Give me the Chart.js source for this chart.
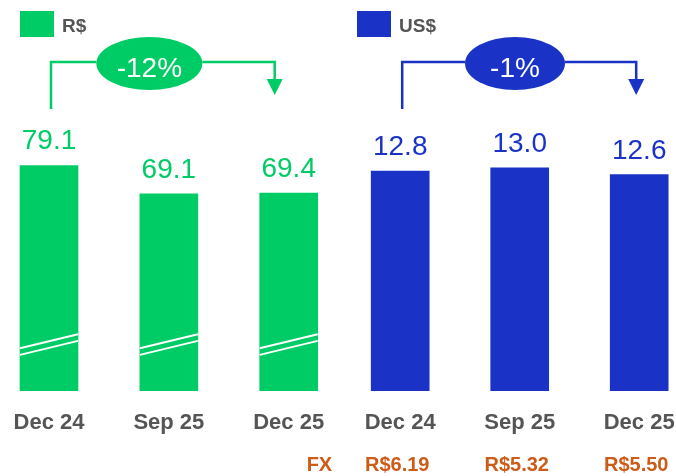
<!DOCTYPE html>
<html>
<head>
<meta charset="utf-8">
<script src="https://cdn.jsdelivr.net/npm/chart.js@4/dist/chart.umd.min.js"></script>
<style>
  body { margin: 0; background: #fff; }
  #wrap { position: relative; width: 676px; height: 476px; }
  #wrap canvas { position: absolute; left: 0; top: 0; }
</style>
</head>
<body>
<div id="wrap">
  <canvas id="brlChart" width="676" height="476"></canvas>
  <canvas id="usdChart" width="676" height="476"></canvas>
</div>
<script>
// Data
const periods = ["Dec 24", "Sep 25", "Dec 25"];
const brlValues = [79.1, 69.1, 69.4];
const usdValues = [12.8, 13.0, 12.6];
const brlChange = "-12%";
const usdChange = "-1%";
const fxLabel = "FX";
const fxRates = ["R$6.19", "R$5.32", "R$5.50"];

const GREEN = "#00cc66";
const BLUE = "#1a33c6";
const GRAY = "#555555";
const ORANGE = "#cc5c18";
const FONT = "'Liberation Sans', Arial, sans-serif";

// Draws legend swatch, value labels, break marks, change bracket and FX row
const decorations = {
  id: "decorations",
  afterDatasetsDraw(chart, args, opts) {
    const ctx = chart.ctx;
    const ds = chart.data.datasets[0];
    const bars = chart.getDatasetMeta(0).data;
    const base = chart.chartArea.bottom;
    const color = ds.backgroundColor;
    ctx.save();

    // legend
    ctx.fillStyle = color;
    ctx.fillRect(opts.legendX, 11, 34, 26);
    ctx.fillStyle = GRAY;
    ctx.font = "bold 19px " + FONT;
    ctx.textAlign = "left";
    ctx.textBaseline = "alphabetic";
    ctx.fillText(ds.label, opts.legendX + 42, 31.5);

    // value labels
    ctx.font = "28px " + FONT;
    ctx.textAlign = "center";
    ctx.fillStyle = color;
    bars.forEach((bar, i) => {
      ctx.fillText(ds.data[i].toFixed(1), bar.x, bar.y - 16);
    });

    // axis break marks
    if (opts.breakMarks) {
      ctx.strokeStyle = "#fff";
      ctx.lineWidth = 2;
      bars.forEach(bar => {
        const half = bar.width / 2;
        const cy = base - 46;
        [-3.3, 3.3].forEach(off => {
          ctx.beginPath();
          ctx.moveTo(bar.x - half, cy + off + 7);
          ctx.lineTo(bar.x + half, cy + off - 7);
          ctx.stroke();
        });
      });
    }

    // change bracket
    const b = opts.bracket;
    const x0 = bars[0].x + b.leftDx;
    const x1 = bars[bars.length - 1].x + b.rightDx;
    const ex = bars[1].x + b.ellipseDx;
    const lineY = 62;
    const ey = 63.5;
    ctx.strokeStyle = color;
    ctx.lineWidth = 2.5;
    ctx.beginPath();
    ctx.moveTo(x0, 109);
    ctx.lineTo(x0, lineY);
    ctx.lineTo(ex - b.rx, lineY);
    ctx.moveTo(ex + b.rx, lineY);
    ctx.lineTo(x1, lineY);
    ctx.lineTo(x1, 80);
    ctx.stroke();
    ctx.fillStyle = color;
    ctx.beginPath();
    ctx.moveTo(x1 - 8, 79);
    ctx.lineTo(x1 + 8, 79);
    ctx.lineTo(x1, 95);
    ctx.closePath();
    ctx.fill();
    ctx.beginPath();
    ctx.ellipse(ex, ey, b.rx, 26.5, 0, 0, Math.PI * 2);
    ctx.fill();
    ctx.fillStyle = "#fff";
    ctx.font = "28px " + FONT;
    ctx.textAlign = "center";
    ctx.fillText(b.text, ex, ey + 13);

    // FX row
    if (opts.fx) {
      ctx.fillStyle = ORANGE;
      ctx.font = "bold 20px " + FONT;
      ctx.textAlign = "right";
      ctx.fillText(fxLabel, bars[0].x - 68, 471);
      ctx.textAlign = "center";
      bars.forEach((bar, i) => {
        ctx.fillText(fxRates[i], bar.x - 3, 471);
      });
    }
    ctx.restore();
  }
};

function makeChart(id, label, values, color, padLeft, padRight, yMax, deco) {
  return new Chart(document.getElementById(id), {
    type: "bar",
    data: {
      labels: periods,
      datasets: [{ label: label, data: values, backgroundColor: color, barThickness: 58, clip: false }],
    },
    options: {
      responsive: false,
      animation: false,
      events: [],
      layout: { padding: { left: padLeft, right: padRight, top: 106, bottom: 40 } },
      plugins: {
        legend: { display: false },
        tooltip: { enabled: false },
        decorations: deco,
      },
      scales: {
        x: {
          offset: false,
          grid: { display: false, drawTicks: true, tickLength: 19 },
          border: { display: false },
          ticks: {
            color: GRAY,
            font: { family: FONT, size: 22, weight: "bold" },
            padding: 0,
            maxRotation: 0,
            autoSkip: false,
          },
        },
        y: { display: false, min: 0, max: yMax },
      },
    },
    plugins: [decorations],
  });
}

makeChart("brlChart", "R$", brlValues, GREEN, 49, 387.3, 100, {
  legendX: 20,
  breakMarks: true,
  bracket: { text: brlChange, leftDx: 2, rightDx: -14, ellipseDx: -19.5, rx: 53 },
});

makeChart("usdChart", "US$", usdValues, BLUE, 400.2, 36.8, 16.6, {
  legendX: 357,
  fx: true,
  bracket: { text: usdChange, leftDx: 2, rightDx: -3, ellipseDx: -4.7, rx: 50 },
});
</script>
</body>
</html>
